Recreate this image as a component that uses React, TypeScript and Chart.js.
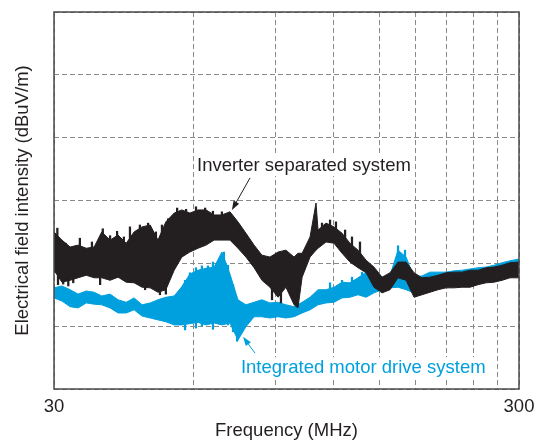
import React, { useEffect, useRef } from 'react';
import { Chart, registerables } from 'chart.js';

Chart.register(...registerables);

// Frequencies (MHz) for the "Inverter separated system" trace
const blackFreq = [30.0, 31.2, 32.5, 33.8, 35.2, 36.6, 38.0, 39.6, 41.2, 42.9, 44.6, 46.4, 48.3, 50.2, 52.2, 54.4, 56.5, 58.8, 61.2, 63.7, 66.3, 68.9, 71.7, 74.6, 77.6, 80.8, 84.0, 87.4, 91.0, 94.6, 98.5, 100.4, 102.5, 106.6, 109.8, 110.9, 115.4, 120.0, 124.9, 129.9, 135.2, 140.7, 146.3, 152.3, 158.4, 164.8, 171.5, 178.4, 185.6, 193.1, 200.9, 209.1, 217.5, 226.3, 235.4, 244.9, 254.9, 265.2, 275.9, 287.0, 300];
// Upper and lower envelope of the noisy band (relative dBuV/m)
const blackUpper = [25.0, 23.7, 22.6, 22.9, 22.4, 22.6, 25.0, 23.7, 24.5, 23.2, 25.0, 25.8, 26.1, 23.7, 26.6, 28.0, 28.5, 28.0, 28.5, 28.5, 27.7, 27.7, 28.2, 26.6, 24.8, 22.9, 21.3, 21.0, 21.8, 22.1, 21.0, 21.6, 21.6, 24.2, 29.6, 25.3, 26.4, 25.8, 24.8, 23.2, 22.1, 20.5, 19.4, 17.8, 18.5, 20.2, 20.2, 18.5, 17.7, 17.8, 18.1, 18.5, 18.6, 18.6, 18.9, 18.9, 19.3, 19.4, 19.7, 20.1, 20.2];
const blackLower = [18.9, 17.0, 17.3, 17.7, 18.1, 17.7, 17.7, 17.3, 17.8, 17.0, 16.9, 16.2, 16.1, 15.4, 15.8, 18.9, 21.0, 21.8, 22.4, 22.9, 23.7, 23.7, 23.7, 22.4, 21.0, 19.3, 17.3, 16.2, 14.6, 16.2, 13.4, 12.9, 17.8, 21.0, 22.1, 22.4, 23.4, 23.2, 21.6, 20.2, 19.3, 18.5, 16.2, 15.3, 15.8, 17.7, 17.3, 14.6, 15.0, 15.4, 15.8, 16.1, 16.1, 16.2, 16.2, 16.6, 16.9, 17.0, 17.3, 17.7, 17.7];
// Narrow noise spikes of the black trace: frequency, low, high
const blackSpikeFreq = [30.5, 31.8, 34.1, 36.2, 38.2, 39.6, 41.0, 42.4, 43.7, 45.0, 45.9, 47.8, 49.7, 51.2, 52.8, 53.6, 55.2, 57.7, 60.6, 63.4, 65.9, 68.9, 113.1, 117.7, 121.2, 126.8, 131.2, 136.5, 30.6, 31.4, 32.2, 33.0, 37.7, 47.1, 50.7, 52.2, 88.3, 92.3];
const blackSpikeLow = [23, 21, 21, 21, 22, 22, 22, 22, 22, 22, 23, 23, 22, 23, 24, 24, 26, 26, 26, 26, 26, 26, 24, 24, 24, 23, 22, 21, 16.6, 16.7, 16.4, 16.9, 16.6, 15.8, 15.0, 15.1, 14.2, 13.7];
const blackSpikeHigh = [25.6, 23.2, 24.0, 23.4, 25.5, 24.4, 25.1, 24.2, 25.8, 25.0, 26.1, 26.4, 25.0, 26.1, 27.1, 26.6, 28.8, 28.6, 29.0, 28.8, 28.3, 28.2, 26.4, 26.9, 26.6, 25.3, 24.2, 23.4, 19, 19, 19, 19, 19, 18, 17, 17, 17, 16];

// Frequencies (MHz) for the "Integrated motor drive system" trace
const blueFreq = [30.0, 31.2, 32.5, 33.8, 35.2, 36.6, 38.0, 39.6, 41.2, 42.9, 44.6, 46.4, 48.3, 50.2, 52.2, 54.4, 56.5, 58.8, 61.2, 63.7, 66.3, 68.9, 71.7, 74.6, 77.6, 80.8, 84.0, 87.4, 91.0, 94.6, 98.5, 102.5, 106.6, 110.9, 115.4, 120.0, 124.9, 129.9, 135.2, 140.7, 146.3, 152.3, 158.4, 164.8, 171.5, 178.4, 185.6, 193.1, 200.9, 209.1, 217.5, 226.3, 235.4, 244.9, 254.9, 265.2, 275.9, 287.0, 300];
const blueUpper = [16.1, 16.4, 15.8, 15.1, 15.6, 15.4, 14.8, 15.1, 14.2, 13.8, 14.5, 13.4, 13.7, 14.2, 14.6, 14.8, 16.3, 18.3, 18.9, 19.2, 19.4, 21.8, 18.3, 14.2, 13.4, 13.8, 14.2, 13.7, 13.8, 13.4, 13.1, 13.8, 14.6, 15.8, 15.8, 16.2, 17.0, 16.9, 17.7, 18.6, 18.9, 17.8, 18.1, 22.1, 21.0, 17.8, 18.0, 18.6, 18.6, 18.6, 18.8, 18.9, 19.1, 19.3, 19.4, 19.7, 20.1, 20.4, 20.7];
const blueLower = [14.5, 14.0, 13.1, 12.9, 13.7, 13.5, 13.4, 12.9, 12.1, 12.1, 12.6, 11.6, 11.3, 11.0, 10.7, 10.2, 10.2, 10.4, 10.6, 10.2, 10.5, 10.2, 10.5, 7.8, 9.9, 11.5, 11.5, 11.3, 11.5, 11.3, 11.5, 12.1, 12.6, 13.4, 13.7, 13.8, 14.5, 14.6, 15.0, 14.6, 15.3, 15.8, 16.1, 16.2, 15.8, 15.3, 15.8, 16.1, 16.4, 16.4, 16.6, 16.7, 16.9, 17.0, 17.2, 17.3, 17.5, 17.8, 18.1];
// Narrow noise spikes of the blue trace: frequency, low, high
const blueSpikeFreq = [57.4, 58.8, 60.6, 62.4, 64.3, 65.9, 67.6, 69.6, 71.0, 72.8, 74.3, 117.7, 124.9, 131.2, 137.9, 144.9, 164.8, 170.6];
const blueSpikeLow = [9.4, 13, 9.7, 10.0, 12, 9.5, 12, 12, 10.2, 9.1, 7.6, 14, 15, 15, 16, 16, 18, 18];
const blueSpikeHigh = [17.3, 18.5, 19.3, 19.6, 19.6, 20.2, 18.9, 21.8, 19.7, 16.6, 13, 16.9, 17.3, 17.8, 18.6, 19.4, 22.8, 22.1];

// Axes
const xGridTicks = [30, 60, 90, 120, 150, 180, 210, 240, 270, 300];
const xLabeledTicks = [30, 300];
const yMin = 0;
const yMax = 60;
const yStep = 10;

// Annotations
const blackLabel = 'Inverter separated system';
const blueLabel = 'Integrated motor drive system';
const xTitle = 'Frequency (MHz)';
const yTitle = 'Electrical field intensity (dBuV/m)';

const BLACK = '#231f20';
const BLUE = '#00a0de';
const FONT = '"Liberation Sans", Arial, Helvetica, sans-serif';

const pts = (xs: number[], ys: number[]) => xs.map((x, i) => ({ x, y: ys[i] }));
const bars = (xs: number[], lo: number[], hi: number[]) => xs.map((x, i) => ({ x, y: [lo[i], hi[i]] }));

function drawArrow(ctx: CanvasRenderingContext2D, x1: number, y1: number, x2: number, y2: number, color: string) {
  const ang = Math.atan2(y2 - y1, x2 - x1);
  const len = 9;
  const hw = 3.2;
  ctx.strokeStyle = color;
  ctx.fillStyle = color;
  ctx.lineWidth = 1;
  ctx.beginPath();
  ctx.moveTo(x1, y1);
  ctx.lineTo(x2 - Math.cos(ang) * len * 0.8, y2 - Math.sin(ang) * len * 0.8);
  ctx.stroke();
  ctx.beginPath();
  ctx.moveTo(x2, y2);
  ctx.lineTo(x2 - Math.cos(ang) * len - Math.sin(ang) * hw, y2 - Math.sin(ang) * len + Math.cos(ang) * hw);
  ctx.lineTo(x2 - Math.cos(ang) * len + Math.sin(ang) * hw, y2 - Math.sin(ang) * len - Math.cos(ang) * hw);
  ctx.closePath();
  ctx.fill();
}

const labels = [
  { text: blackLabel, f: 60.9, v: 34.7, color: BLACK },
  { text: blueLabel, f: 75.7, v: 2.5, color: BLUE },
];

const overlayPlugin = {
  id: 'overlay',
  beforeDatasetsDraw(chart: any) {
    const { ctx, scales } = chart;
    ctx.save();
    ctx.font = `18.5px ${FONT}`;
    for (const l of labels) {
      const px = scales.x.getPixelForValue(l.f);
      const py = scales.y.getPixelForValue(l.v);
      const w = ctx.measureText(l.text).width;
      ctx.fillStyle = '#ffffff';
      ctx.fillRect(px - 2, py - 16, w + 4, 21);
    }
    ctx.restore();
  },
  afterDatasetsDraw(chart: any) {
    const { ctx, chartArea: a, scales } = chart;
    const X = (f: number) => scales.x.getPixelForValue(f);
    const Y = (v: number) => scales.y.getPixelForValue(v);
    ctx.save();
    ctx.font = `18.5px ${FONT}`;
    ctx.textAlign = 'left';
    ctx.textBaseline = 'alphabetic';
    for (const l of labels) {
      ctx.fillStyle = l.color;
      ctx.fillText(l.text, X(l.f), Y(l.v));
    }
    drawArrow(ctx, X(79.2), Y(33.6), X(72.4), Y(28.5), BLACK);
    drawArrow(ctx, X(81.2), Y(5.7), X(76.5), Y(8.3), BLUE);
    ctx.strokeStyle = '#4a4a4a';
    ctx.lineWidth = 1.5;
    ctx.strokeRect(a.left, a.top, a.right - a.left, a.bottom - a.top);
    ctx.restore();
  },
};

export default function App() {
  const ref = useRef<HTMLCanvasElement | null>(null);
  useEffect(() => {
    if (!ref.current) return;
    const band = (data: any[], color: string, fill: any) => ({
      type: 'line',
      data,
      borderColor: color,
      backgroundColor: color,
      borderWidth: 1,
      pointRadius: 0,
      tension: 0,
      fill,
    });
    const spikes = (data: any[], color: string) => ({
      type: 'bar',
      data,
      backgroundColor: color,
      borderWidth: 0,
      barThickness: 1.6,
      grouped: false,
    });
    const chart = new Chart(ref.current, {
      type: 'line',
      data: {
        datasets: [
          spikes(bars(blackSpikeFreq, blackSpikeLow, blackSpikeHigh), BLACK),
          band(pts(blackFreq, blackUpper), BLACK, '+1'),
          band(pts(blackFreq, blackLower), BLACK, false),
          spikes(bars(blueSpikeFreq, blueSpikeLow, blueSpikeHigh), BLUE),
          band(pts(blueFreq, blueUpper), BLUE, '+1'),
          band(pts(blueFreq, blueLower), BLUE, false),
        ],
      },
      options: {
        responsive: false,
        animation: false,
        layout: { padding: { top: 12, right: 25, bottom: 0, left: 0 } },
        plugins: { legend: { display: false }, tooltip: { enabled: false } },
        scales: {
          x: {
            type: 'logarithmic',
            min: 30,
            max: 300,
            offset: false,
            afterBuildTicks: (scale: any) => {
              scale.ticks = xGridTicks.map((v) => ({ value: v }));
            },
            afterFit: (scale: any) => {
              scale.height = 53;
            },
            ticks: {
              autoSkip: false,
              maxRotation: 0,
              padding: 7,
              color: BLACK,
              font: { family: FONT, size: 18.5 },
              callback: (value: any) => (xLabeledTicks.includes(Number(value)) ? String(value) : ''),
            },
            grid: { color: '#8a8a8a', lineWidth: 1, drawTicks: false, offset: false },
            border: { display: false, dash: [5, 3] },
            title: {
              display: true,
              text: xTitle,
              color: BLACK,
              font: { family: FONT, size: 18.5 },
              padding: { top: 0, bottom: 0 },
            },
          },
          y: {
            type: 'linear',
            min: yMin,
            max: yMax,
            ticks: { stepSize: yStep, display: false },
            afterFit: (scale: any) => {
              scale.width = 54;
            },
            grid: { color: '#8a8a8a', lineWidth: 1, drawTicks: false },
            border: { display: false, dash: [5, 3] },
            title: {
              display: true,
              text: yTitle,
              color: BLACK,
              font: { family: FONT, size: 18.5 },
              padding: { top: 12, bottom: 0 },
            },
          },
        },
      },
      plugins: [overlayPlugin],
    } as any);
    return () => chart.destroy();
  }, []);
  return (
    <div style={{ position: 'absolute', left: 0, top: 0, width: 544, height: 442, background: '#fff' }}>
      <canvas ref={ref} width={544} height={442} style={{ display: 'block' }} />
    </div>
  );
}
